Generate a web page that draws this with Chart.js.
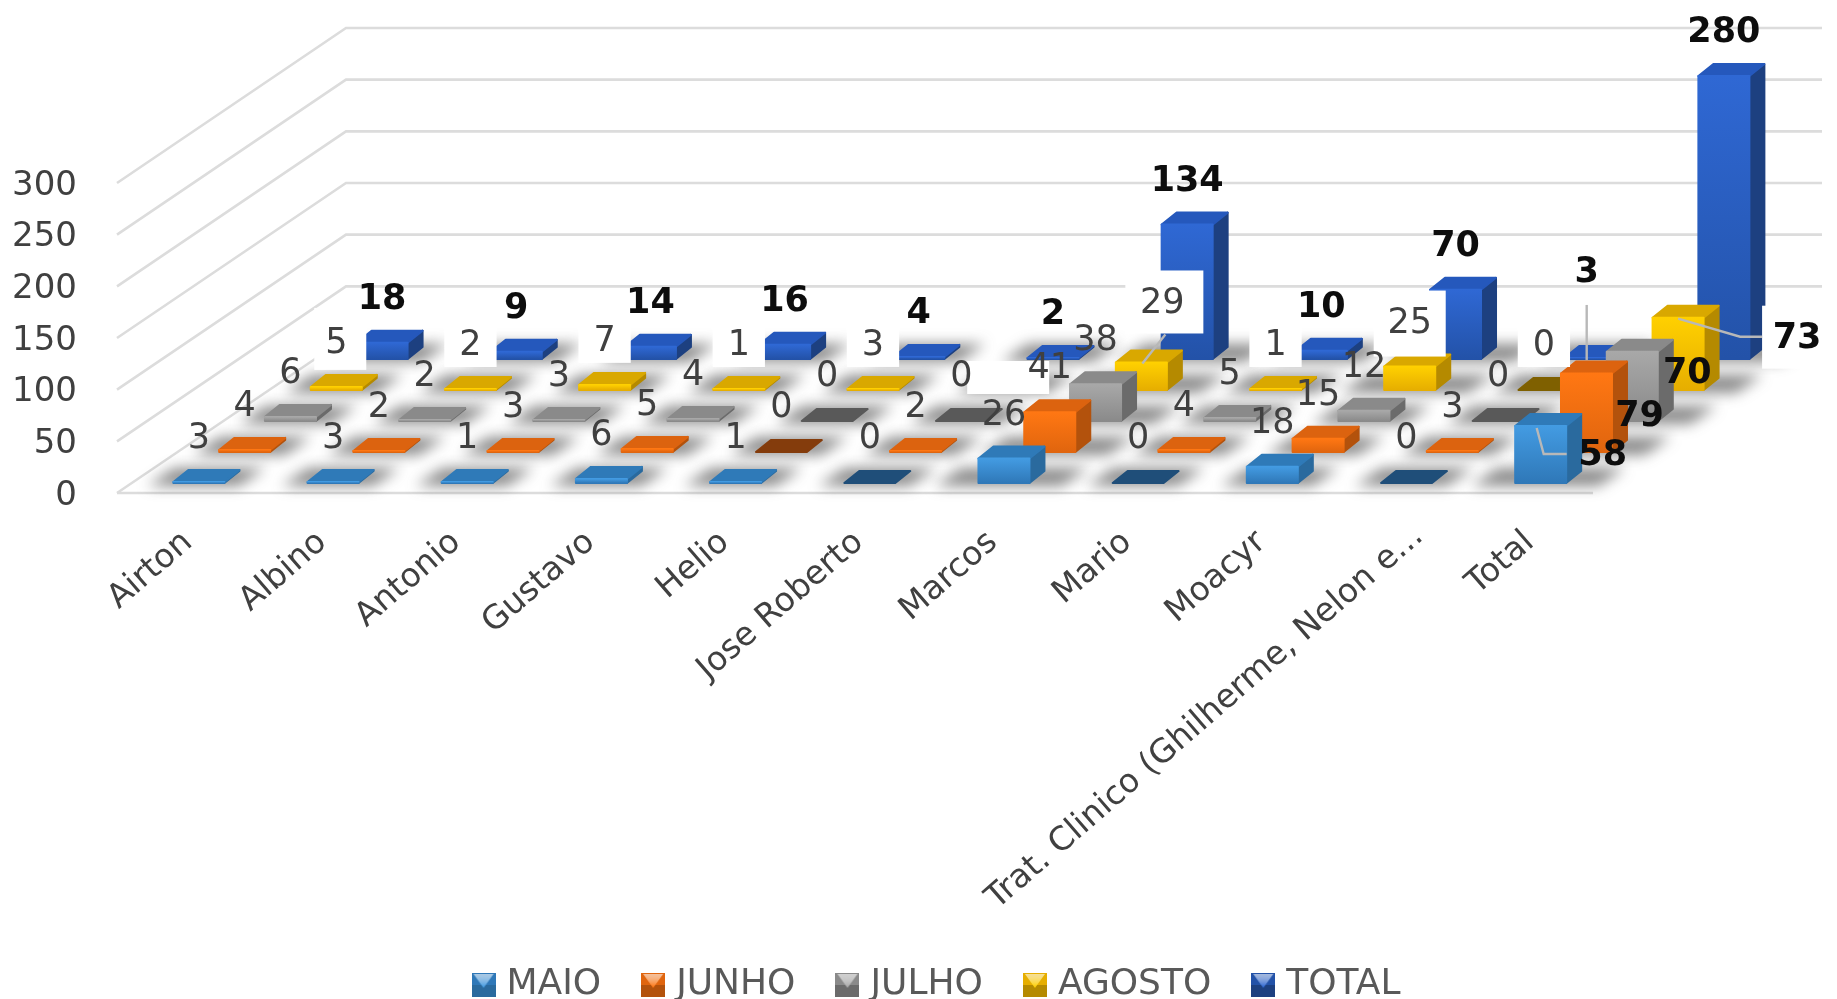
<!DOCTYPE html>
<html><head><meta charset="utf-8">
<style>html,body{margin:0;padding:0;background:#fff;overflow:hidden}canvas{display:block;filter:blur(0.7px)}</style>
<script src="https://cdn.jsdelivr.net/npm/chart.js@4/dist/chart.umd.min.js"></script>
</head><body><canvas id="c" width="1837" height="999"></canvas>
<script>
const categories=["Airton","Albino","Antonio","Gustavo","Helio","Jose Roberto","Marcos","Mario","Moacyr","Trat. Clinico (Ghilherme, Nelon e...","Total"];
const MAIO  =[3,3,1,6,1,0,26,0,18,0,58];
const JUNHO =[4,2,3,5,0,2,41,4,15,3,79];
const JULHO =[6,2,3,4,0,0,38,5,12,0,70];
const AGOSTO=[5,2,7,1,3,0,29,1,25,0,73];
const TOTAL =[18,9,14,16,4,2,134,10,70,3,280];
const seriesNames=["MAIO","JUNHO","JULHO","AGOSTO","TOTAL"];
const seriesValues=[MAIO,JUNHO,JULHO,AGOSTO,TOTAL];

const palette=[
 {hi:'#439be2',lo:'#2f78b8',side:'#2a6a9e',top:'#2f7ab8',zero:'#1f4e79'},
 {hi:'#ff7713',lo:'#e0650e',side:'#b3520c',top:'#dc630f',zero:'#843c0c'},
 {hi:'#a8a8a8',lo:'#8a8a8a',side:'#6b6b6b',top:'#8a8a8a',zero:'#595959'},
 {hi:'#ffd000',lo:'#e6ae00',side:'#b58a00',top:'#d9a800',zero:'#7f6000'},
 {hi:'#2f68d4',lo:'#2352a8',side:'#1d4080',top:'#2558bc',zero:'#1f4e79'}
];
// oblique projection of the chart's depth axis
const DEPTH_X=229, DEPTH_Y=155, ROW_STEP=31, ROW_FRONT=10, BAR_DY=12, BAR_DX=15;
const rowLift=i=>ROW_FRONT+ROW_STEP*i;
const rowShift=i=>rowLift(i)*DEPTH_X/DEPTH_Y;
const barHeight=px=>Math.max(px*0.985-2,1);

// label adjustments, relative to the default label point
const labelTweaks={
 "3:5":{hide:true,box:[-40,15,42,48]},
 "3:0":{box:[-22,-36,30,26]},
 "3:8":{box:[-36,-33,36,33]},
 "3:6":{dx:21,dy:-16,box:[-16,-49,62,14],line:[[24,15],[1,44]]},
 "3:10":{dx:119,dy:64,box:[84,31,165,94],line:[[84,62],[62,62],[0,44]]},
 "2:10":{dx:55,dy:65,noBox:true},
 "1:10":{dx:53,dy:86},
 "0:10":{dx:62,dy:73,line:[[26,71],[3,71],[-4,45]]},
 "4:9":{dx:-3,dy:-42,line:[[-3,-10],[-3,45]]}
};

function swatch(p){
 const s=document.createElement('canvas');s.width=24;s.height=24;
 const g=s.getContext('2d');
 g.fillStyle=p.lo;g.fillRect(0,0,24,24);
 g.fillStyle=p.side;g.fillRect(0,12,24,12);
 const t=g.createLinearGradient(0,0,0,14);t.addColorStop(0,'#ffffff99');t.addColorStop(1,p.hi);
 g.fillStyle=t;g.beginPath();g.moveTo(2,1);g.lineTo(22,1);g.lineTo(12,15);g.closePath();g.fill();
 return s;
}
function poly(ctx,pts,fill){ctx.fillStyle=fill;ctx.strokeStyle=fill;ctx.lineWidth=2;ctx.lineJoin='round';ctx.beginPath();pts.forEach((q,i)=>i?ctx.lineTo(q[0],q[1]):ctx.moveTo(q[0],q[1]));ctx.closePath();ctx.fill();ctx.stroke();}

const bars3d={
 id:'bars3d',
 afterLayout(chart){
  // the legend sits a little right of the canvas centre
  chart.legend.left+=21;chart.legend.right+=21;
  // the long truncated category label sits further along its slope
  const it=chart.scales.x.getLabelItems()[9];
  if(it){it.options.translation[0]+=23;it.options.translation[1]-=6;}
 },
 beforeDatasetsDraw(chart){
  const ctx=chart.ctx,a=chart.chartArea,y=chart.scales.y;
  ctx.save();
  ctx.lineCap='butt';
  // walls: one diagonal and one back line per value tick
  ctx.strokeStyle='#dcdcdc';ctx.lineWidth=2.6;
  y.ticks.forEach(t=>{
   const py=y.getPixelForValue(t.value);
   ctx.beginPath();ctx.moveTo(a.left,py);ctx.lineTo(a.left+DEPTH_X,py-DEPTH_Y);
   if(t.value>0)ctx.lineTo(a.right+DEPTH_X,py-DEPTH_Y);
   ctx.stroke();
  });
  ctx.beginPath();ctx.moveTo(a.left,a.bottom);ctx.lineTo(a.right,a.bottom);ctx.stroke();
  // floor shadows
  ctx.filter='blur(7px)';
  chart.data.datasets.forEach((ds,i)=>{
   chart.getDatasetMeta(i).data.forEach((el,j)=>{
    const s=rowShift(i),l=rowLift(i),base=a.bottom-l,x0=el.x+s-el.width/2;
    const tall=ds.data[j]>20?18:0;
    ctx.fillStyle='rgba(60,60,60,.6)';
    ctx.beginPath();
    ctx.moveTo(x0-26-tall,base+3);ctx.lineTo(x0+el.width+14+tall,base+3);
    ctx.lineTo(x0+el.width+BAR_DX+26+tall,base-BAR_DY-3);ctx.lineTo(x0+BAR_DX-14-tall,base-BAR_DY-3);
    ctx.closePath();ctx.fill();
   });
  });
  ctx.filter='none';
  ctx.restore();
 },
 beforeDatasetDraw(chart,args){
  const ctx=chart.ctx,a=chart.chartArea,i=args.index,p=palette[i],vals=chart.data.datasets[i].data;
  const s=rowShift(i),base=a.bottom-rowLift(i),y=chart.scales.y,h0=y.getPixelForValue(0);
  ctx.save();
  args.meta.data.forEach((el,j)=>{
   const x0=el.x+s-el.width/2,x1=x0+el.width,top=base-barHeight(h0-el.y);
   const v=vals[j];
   if(v===0){poly(ctx,[[x0,base],[x1,base],[x1+BAR_DX,base-BAR_DY],[x0+BAR_DX,base-BAR_DY]],p.zero);return;}
   const g=ctx.createLinearGradient(0,top,0,base);g.addColorStop(0,p.hi);g.addColorStop(1,p.lo);
   poly(ctx,[[x1,top],[x1+BAR_DX,top-BAR_DY],[x1+BAR_DX,base-BAR_DY],[x1,base]],p.side);
   poly(ctx,[[x0,top],[x1,top],[x1+BAR_DX,top-BAR_DY],[x0+BAR_DX,top-BAR_DY]],p.top);
   poly(ctx,[[x0,top],[x1,top],[x1,base],[x0,base]],g);
  });
  ctx.restore();
  return false;
 },
 afterDatasetsDraw(chart){
  const ctx=chart.ctx,a=chart.chartArea,h0=chart.scales.y.getPixelForValue(0);
  const items=[];
  chart.data.datasets.forEach((ds,i)=>{
   chart.getDatasetMeta(i).data.forEach((el,j)=>{
    const top=a.bottom-rowLift(i)-barHeight(h0-el.y);
    const px=el.x+rowShift(i),py=top-43;
    const tw=labelTweaks[i+':'+j]||{};
    const bold=i===4||j===10;
    items.push({i,j,px,py,tw,bold,text:String(ds.data[j])});
   });
  });
  ctx.save();
  ctx.textAlign='center';ctx.textBaseline='middle';
  // white label plates of the AGOSTO series
  items.forEach(o=>{
   if(o.i!==3||o.tw.noBox)return;
   ctx.font='35px "DejaVu Sans"';
   let b=o.tw.box;
   if(!b){const w=ctx.measureText(o.text).width/2+15;b=[-w,-21,w,21];}
   ctx.fillStyle='#fff';ctx.fillRect(o.px+b[0],o.py+b[1],b[2]-b[0],b[3]-b[1]);
  });
  // leader lines
  ctx.strokeStyle='#b8b8b8';ctx.lineWidth=2.4;
  items.forEach(o=>{
   if(!o.tw.line)return;
   ctx.beginPath();o.tw.line.forEach((q,k)=>k?ctx.lineTo(o.px+q[0],o.py+q[1]):ctx.moveTo(o.px+q[0],o.py+q[1]));ctx.stroke();
  });
  items.forEach(o=>{
   if(o.tw.hide)return;
   ctx.font=(o.bold?'bold ':'')+'35px "DejaVu Sans"';
   ctx.fillStyle=o.bold?'#0d0d0d':'#404040';
   ctx.fillText(o.text,o.px+(o.tw.dx||0),o.py+(o.tw.dy||0));
  });
  ctx.restore();
 }
};

new Chart(document.getElementById('c'),{
 type:'bar',
 data:{labels:categories,datasets:seriesNames.map((n,i)=>({label:n,data:seriesValues[i],backgroundColor:palette[i].lo,grouped:false,barThickness:51}))},
 plugins:[bars3d],
 options:{
  responsive:false,animation:false,
  layout:{padding:{top:183,left:0,right:0,bottom:-14}},
  plugins:{
   tooltip:{enabled:false},
   legend:{position:'bottom',
    labels:{color:'#595959',font:{family:'"DejaVu Sans"',size:36},padding:47,usePointStyle:true,pointStyleWidth:10,
     generateLabels(chart){return chart.data.datasets.map((d,i)=>({text:d.label,datasetIndex:i,fontColor:'#595959',fillStyle:palette[i].lo,strokeStyle:palette[i].lo,lineWidth:0,pointStyle:swatch(palette[i]),hidden:false}));}
    }}
  },
  scales:{
   x:{grid:{display:false},border:{display:false},
     afterFit(s){s.height=427;},
     ticks:{autoSkip:false,minRotation:41,maxRotation:41,labelOffset:4,color:'#404040',padding:22,font:{family:'"DejaVu Sans"',size:33}}},
   y:{min:0,max:300,grid:{display:false},border:{display:false},
     afterFit(s){s.width=117;},
     ticks:{stepSize:50,color:'#404040',padding:32,labelOffset:3,font:{family:'"DejaVu Sans"',size:34}}},
   y2:{axis:'y',position:'right',display:true,min:0,max:300,grid:{display:false},border:{display:false},
     afterFit(s){s.width=244;},
     ticks:{display:false}}
  }
 }
});
</script></body></html>
